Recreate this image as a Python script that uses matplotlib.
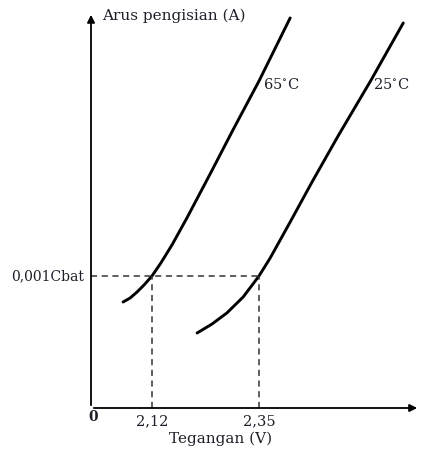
import matplotlib.pyplot as plt

# charging current vs voltage (schematic)
# y in units of 0,001Cbat
v_65 = [2.058, 2.073, 2.088, 2.103, 2.12, 2.139, 2.163, 2.195, 2.245, 2.294, 2.350, 2.417]
i_65 = [0.803, 0.833, 0.879, 0.932, 1.0, 1.098, 1.235, 1.439, 1.773, 2.106, 2.477, 2.955]
v_25 = [2.217, 2.249, 2.281, 2.316, 2.35, 2.374, 2.417, 2.464, 2.520, 2.591, 2.660]
i_25 = [0.568, 0.636, 0.720, 0.841, 1.0, 1.136, 1.409, 1.712, 2.061, 2.485, 2.917]
curve_labels = ['65$^{\\circ}$C', '25$^{\\circ}$C']
v_marks = [2.12, 2.35]
v_mark_labels = ['2,12', '2,35']
i_mark = 1.0
i_mark_label = '0,001Cbat'

plt.rcParams['font.family'] = ['DejaVu Serif']
plt.rcParams['mathtext.fontset'] = 'dejavuserif'
txt = '#1f1f2a'

fig = plt.figure(figsize=(4.24, 4.49), dpi=100)
ax = fig.add_axes([91 / 424, 41 / 449, 329 / 424, 396 / 449])
ax.set_xlim(1.989, 2.696)
ax.set_ylim(0, 3.0)
for s in ax.spines.values():
    s.set_visible(False)
ax.set_xticks([])
ax.set_yticks([])

# axes with arrows
arrow = dict(arrowstyle='-|>', lw=1.3, color='black', mutation_scale=11)
ax.annotate('', xy=(0, 1.0), xytext=(0, 0), xycoords='axes fraction', arrowprops=arrow)
ax.annotate('', xy=(1.0, 0), xytext=(0, 0), xycoords='axes fraction', arrowprops=arrow)

ax.plot(v_65, i_65, color='black', lw=2.1, solid_capstyle='round', solid_joinstyle='round')
ax.plot(v_25, i_25, color='black', lw=2.1, solid_capstyle='round', solid_joinstyle='round')

# dashed guide lines
ax.plot([1.989, max(v_marks)], [i_mark, i_mark], color='#333333', lw=1.1, ls=(0, (4, 3)))
for v in v_marks:
    ax.plot([v, v], [0, i_mark], color='#333333', lw=1.1, ls=(0, (4, 3)))

ax.text(2.012, 2.97, 'Arus pengisian (A)', fontsize=11, color=txt, ha='left', va='center')
ax.text(1.974, i_mark, i_mark_label, fontsize=10, color=txt, ha='right', va='center')
ax.text(1.994, -0.07, '0', fontsize=10, color=txt, ha='center', va='center', fontweight='bold')
for v, lab in zip(v_marks, v_mark_labels):
    ax.text(v, -0.1, lab, fontsize=10.5, color=txt, ha='center', va='center')
ax.text(2.268, -0.235, 'Tegangan (V)', fontsize=11, color=txt, ha='center', va='center')
ax.text(2.358, 2.45, curve_labels[0], fontsize=10.5, color=txt, ha='left', va='center')
ax.text(2.596, 2.45, curve_labels[1], fontsize=10.5, color=txt, ha='left', va='center')

fig.savefig('out.png', dpi=100)
